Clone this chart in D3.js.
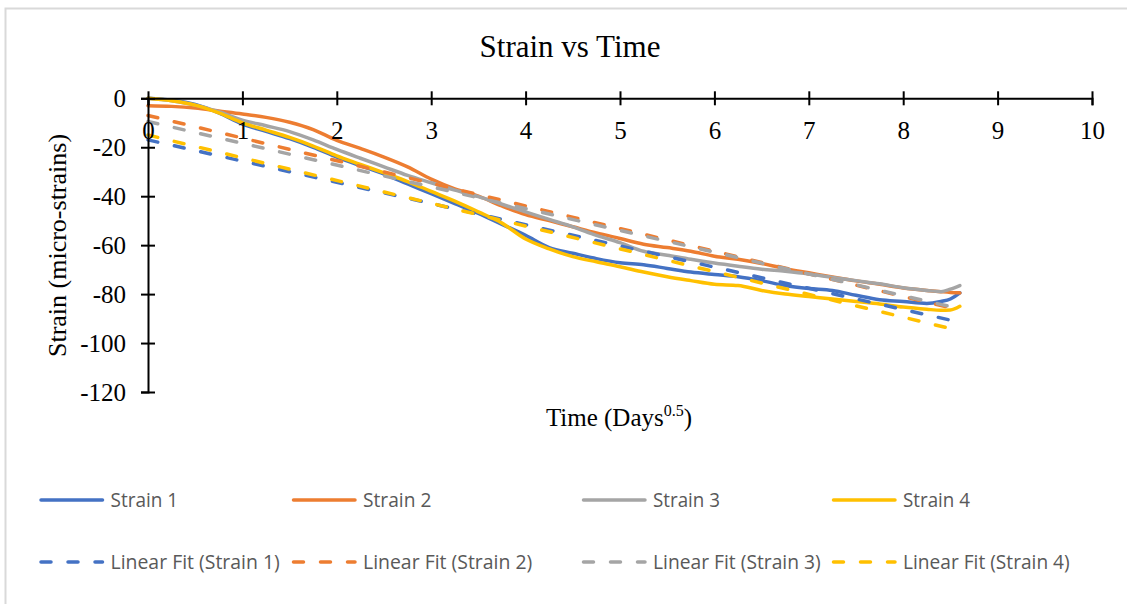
<!DOCTYPE html>
<html>
<head>
<meta charset="utf-8">
<script src="https://cdn.jsdelivr.net/npm/d3@7"></script>
<style>
  html, body { margin: 0; padding: 0; background: #fff; }
  svg { display: block; }
</style>
</head>
<body>
<svg id="chart" width="1127" height="604"></svg>
<script>
// ---- data ----
const time = [0, 0.25, 0.5, 0.75, 1, 1.25, 1.5, 1.75, 2, 2.25, 2.5, 2.75, 3, 3.25, 3.5, 3.75, 4, 4.25, 4.5, 4.75, 5, 5.25, 5.5, 5.75, 6, 6.25, 6.5, 6.75, 7, 7.25, 7.5, 7.75, 8, 8.25, 8.4, 8.5, 8.6];
const strain1 = [0, -0.8, -2.5, -6, -10.5, -13.5, -16.5, -20, -24, -27.5, -31, -35, -39, -43, -47, -51.5, -56, -61, -63.3, -65.5, -67.2, -68, -69.5, -71, -72, -72.9, -74.5, -76.5, -77.7, -78.5, -80.5, -82.3, -83, -83.8, -83, -82, -79.5];
const strain2 = [-3, -3.3, -4, -5.2, -6.4, -7.8, -9.8, -12.8, -17.2, -20.5, -24, -28, -33, -37, -40, -44, -47.5, -50, -52.5, -55, -57.3, -59.6, -61, -62.5, -64.5, -65.8, -67.5, -69.6, -71.3, -73, -74.6, -76, -77.5, -78.5, -79, -79.3, -79.5];
const strain3 = [0, -1, -2.8, -5.5, -8.9, -11.2, -13.6, -17, -20.9, -24.5, -28, -31.5, -34.5, -37.5, -40.2, -43.3, -46.4, -49.5, -52.5, -56, -59, -62.5, -64.1, -65.8, -67.3, -68.6, -69.8, -70.7, -71.8, -73.2, -74.5, -75.8, -77.4, -78.5, -79, -78, -76.5];
const strain4 = [0, -1, -2.8, -6, -10, -13, -16, -19.5, -23.5, -27, -30.5, -34, -38, -42, -46.4, -51, -57.5, -61.5, -64.7, -66.8, -68.8, -71, -72.9, -74.5, -76, -76.5, -78.5, -80, -81, -82, -83, -84, -85.3, -86.2, -86.6, -86.5, -85];
// linear-fit end points
const fitTime = [0, 8.6];
const fit1 = [-17, -91.5];
const fit2 = [-7, -86.5];
const fit3 = [-9.5, -86];
const fit4 = [-15, -95];
const seriesNames = ["Strain 1", "Strain 2", "Strain 3", "Strain 4"];
const fitNames = ["Linear Fit (Strain 1)", "Linear Fit (Strain 2)", "Linear Fit (Strain 3)", "Linear Fit (Strain 4)"];
const colors = ["#4472C4", "#ED7D31", "#A5A5A5", "#FFC000"];
const xTicks = [0, 1, 2, 3, 4, 5, 6, 7, 8, 9, 10];
const yTicks = [0, -20, -40, -60, -80, -100, -120];

// ---- drawing ----
const svg = d3.select("#chart");
const serif = "'Liberation Serif', 'Times New Roman', serif";
const sans = "'Open Sans', 'Noto Sans', sans-serif";

svg.append("rect").attr("x", 5.5).attr("y", 8.5).attr("width", 1140).attr("height", 620)
  .attr("fill", "#fff").attr("stroke", "#d9d9d9").attr("stroke-width", 2);

const x = d3.scaleLinear().domain([0, 10]).range([148, 1092]);
const y = d3.scaleLinear().domain([-120, 0]).range([392, 98.3]);

// title
svg.append("text").attr("x", 570).attr("y", 57).attr("text-anchor", "middle")
  .attr("font-family", serif).attr("font-size", 31).attr("fill", "#000").text("Strain vs Time");

const line = d3.line().x(d => x(d[0])).y(d => y(d[1])).curve(d3.curveMonotoneX);
const fitLine = d3.line().x(d => x(d[0])).y(d => y(d[1]));
const solids = [strain1, strain2, strain3, strain4];
const fits = [fit1, fit2, fit3, fit4];

const plot = svg.append("g");
solids.forEach((s, i) => {
  plot.append("path").datum(time.map((t, k) => [t, s[k]]))
    .attr("d", line).attr("fill", "none").attr("stroke", colors[i])
    .attr("stroke-width", 3.5).attr("stroke-linejoin", "round").attr("stroke-linecap", "round");
});
fits.forEach((f, i) => {
  plot.append("path").datum(fitTime.map((t, k) => [t, f[k]]))
    .attr("d", fitLine).attr("fill", "none").attr("stroke", colors[i])
    .attr("stroke-width", 3.5).attr("stroke-dasharray", "10,17").attr("stroke-linecap", "round");
});

// x axis at y = 0
const xAxis = svg.append("g").attr("transform", `translate(0,${y(0)})`)
  .call(d3.axisBottom(x).tickValues(xTicks).tickFormat(d3.format("d")).tickSizeOuter(0).tickSize(7));
xAxis.select(".domain").attr("stroke", "#000").attr("stroke-width", 2);
xAxis.selectAll(".tick line").attr("y1", -7).attr("y2", 7).attr("stroke", "#000").attr("stroke-width", 2);
xAxis.selectAll(".tick text").attr("y", 40.5).attr("dy", 0)
  .attr("font-family", serif).attr("font-size", 25).attr("fill", "#000");

// y axis
const yAxis = svg.append("g").attr("transform", `translate(${x(0)},0)`)
  .call(d3.axisLeft(y).tickValues(yTicks).tickFormat(d3.format("d")).tickSizeOuter(0).tickSize(7));
yAxis.select(".domain").attr("stroke", "#000").attr("stroke-width", 2);
yAxis.selectAll(".tick line").attr("x1", -7).attr("x2", 7).attr("stroke", "#000").attr("stroke-width", 2);
yAxis.selectAll(".tick text").attr("x", -22).attr("dy", "0.34em")
  .attr("font-family", serif).attr("font-size", 25).attr("fill", "#000")
  .text(d => d === 0 ? "0" : "-" + Math.abs(d));

// axis titles
const xt = svg.append("text").attr("x", 619).attr("y", 426).attr("text-anchor", "middle")
  .attr("font-family", serif).attr("font-size", 25).attr("fill", "#000");
xt.append("tspan").text("Time (Days");
xt.append("tspan").attr("font-size", 16).attr("dy", -10).text("0.5");
xt.append("tspan").attr("dy", 10).text(")");

svg.append("text").attr("transform", "translate(57,245.5) rotate(-90)")
  .attr("text-anchor", "middle").attr("dominant-baseline", "central")
  .attr("font-family", serif).attr("font-size", 26).attr("fill", "#000")
  .text("Strain (micro-strains)");

// legend
const legX = [39.5, 292, 582, 832];
const solidW = [67.7, 68.4, 67, 67];
const fitW = [169.3, 169.3, 167.7, 166.7];
const rows = [
  { y: 500, names: seriesNames, dash: null, widths: solidW },
  { y: 562, names: fitNames, dash: "10,17", widths: fitW }
];
rows.forEach(r => {
  r.names.forEach((n, i) => {
    const g = svg.append("g");
    g.append("line").attr("x1", legX[i] + 1.5).attr("x2", legX[i] + 63).attr("y1", r.y).attr("y2", r.y)
      .attr("stroke", colors[i]).attr("stroke-width", 3.5)
      .attr("stroke-linecap", "round").attr("stroke-dasharray", r.dash);
    g.append("text").attr("x", legX[i] + 71).attr("y", r.y).attr("dy", "0.36em")
      .attr("font-family", sans).attr("font-size", 20.5).attr("fill", "#595959")
      .attr("textLength", r.widths[i]).attr("lengthAdjust", "spacingAndGlyphs").text(n);
  });
});
</script>
</body>
</html>
